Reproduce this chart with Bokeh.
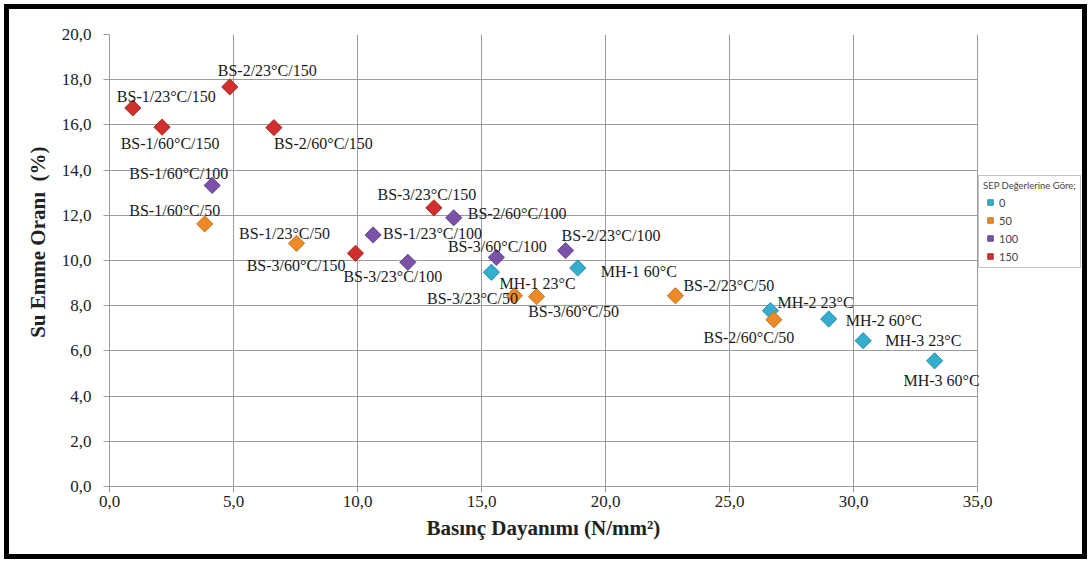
from bokeh.plotting import figure
from bokeh.layouts import column
from bokeh.models import (Range1d, FixedTicker, Legend, LegendItem, ColumnDataSource,
                          Title, BoxAnnotation)
from bokeh.core.properties import value
from bokeh.embed import file_html
from bokeh.resources import INLINE
import math

# ---------------- data ----------------
names = [
    "BS-1/23°C/150", "BS-1/60°C/150", "BS-2/23°C/150", "BS-2/60°C/150",
    "BS-3/23°C/150", "BS-3/60°C/150",
    "BS-1/60°C/100", "BS-1/23°C/100", "BS-2/60°C/100", "BS-3/23°C/100",
    "BS-3/60°C/100", "BS-2/23°C/100",
    "BS-1/60°C/50", "BS-1/23°C/50", "BS-3/23°C/50", "BS-3/60°C/50",
    "BS-2/23°C/50", "BS-2/60°C/50",
    "MH-1 23°C", "MH-1 60°C", "MH-2 23°C", "MH-2 60°C", "MH-3 23°C", "MH-3 60°C",
]
basinc = [
    0.94, 2.12, 4.85, 6.63, 13.08, 9.92,
    4.14, 10.63, 13.88, 12.03, 15.60, 18.39,
    3.84, 7.54, 16.33, 17.22, 22.82, 26.79,
    15.40, 18.88, 26.65, 29.00, 30.39, 33.27,
]
su_emme = [
    16.75, 15.90, 17.68, 15.88, 12.33, 10.32,
    13.32, 11.13, 11.89, 9.92, 10.14, 10.44,
    11.62, 10.76, 8.44, 8.40, 8.44, 7.38,
    9.48, 9.67, 7.78, 7.41, 6.45, 5.56,
]
sep = [
    "150", "150", "150", "150", "150", "150",
    "100", "100", "100", "100", "100", "100",
    "50", "50", "50", "50", "50", "50",
    "0", "0", "0", "0", "0", "0",
]
groups = ["0", "50", "100", "150"]
x_ticks = [0, 5, 10, 15, 20, 25, 30, 35]
y_ticks = [0, 2, 4, 6, 8, 10, 12, 14, 16, 18, 20]

# ---------------- style ----------------
colors = {"0": "#33AECF", "50": "#EE8A25", "100": "#7B52A8", "150": "#D0302C"}
edges = {"0": "#1F7F9A", "50": "#B8661A", "100": "#563882", "150": "#9A1F1C"}
# label placement (pixels from marker) and alignment, same order as names
label_dx = [-16, 8, -12, 0, -7, -10,
            16, 10, 14, -15, 1, -4,
            -30, -12, -42, 37, 8, -25,
            8, 23, 7, 17, 22, 7]
label_dy = [-11, 16, -16, 16, -13, 12,
            -12, -1, -4, 14, -11, -15,
            -13, -10, 3, 15, -10, 18,
            11, 4, -8, 1, 0, 20]
label_align = ["left", "center", "left", "left", "center", "right",
               "right", "left", "left", "center", "center", "left",
               "center", "center", "center", "center", "left", "center",
               "left", "left", "left", "left", "left", "center"]

FW, FH = 1073, 545          # figure inside a 4px margin + 5px black frame
LEFT, TOP, BOTTOM = 100, 25, 68
X_MAX = x_ticks[-1]
PX_PER_X = 868 / X_MAX      # axis length 0..35 in pixels
x_end = (FW - LEFT) / PX_PER_X   # frame extends to the right edge (legend area)

p = figure(width=FW, height=FH, output_backend="svg", toolbar_location=None,
           x_range=Range1d(0, x_end), y_range=Range1d(0, 20),
           min_border_left=LEFT, min_border_right=0,
           min_border_top=TOP, min_border_bottom=BOTTOM,
           background_fill_color="white", border_fill_color="white")
p.outline_line_color = None

grid_col = "#9c9c9c"
for g in (p.xgrid, p.ygrid):
    g.grid_line_color = grid_col
    g.grid_line_width = 1
p.xgrid.ticker = FixedTicker(ticks=x_ticks)
p.ygrid.ticker = FixedTicker(ticks=y_ticks)

# white out the area right of the plot (legend zone)
p.add_layout(BoxAnnotation(left=X_MAX + 0.02, fill_color="white", fill_alpha=1,
                           line_color=None, level="underlay"))

p.xaxis.ticker = FixedTicker(ticks=x_ticks)
p.yaxis.ticker = FixedTicker(ticks=y_ticks)
p.xaxis.bounds = (0, X_MAX)
p.xaxis.major_label_overrides = {t: f"{t:.1f}".replace(".", ",") for t in x_ticks}
p.yaxis.major_label_overrides = {t: f"{t:.1f}".replace(".", ",") for t in y_ticks}
for ax in (p.xaxis, p.yaxis):
    ax.axis_line_color = grid_col
    ax.major_tick_line_color = grid_col
    ax.major_tick_out = 6
    ax.major_tick_in = 0
    ax.minor_tick_line_color = None
    ax.major_label_text_font = "Liberation Serif"
    ax.major_label_text_font_size = "17px"
    ax.major_label_text_color = "#222222"
p.yaxis.major_label_standoff = 12
p.xaxis.major_label_standoff = 3

title_style = dict(text_font="Liberation Serif", text_font_style="bold",
                   text_font_size="21px", text_color="#222222")
xtitle = Title(text="Basınç Dayanımı (N/mm²)", align="left", offset=317,
               standoff=9, **title_style)
p.add_layout(xtitle, "below")

ytitle = Title(text="Su Emme Oranı\u00a0 (%)", align="right", offset=112,
               standoff=18, **title_style)
p.add_layout(ytitle, "left")

src = ColumnDataSource(dict(x=basinc, y=su_emme, name=names, sep=sep,
                            dx=label_dx, dy=label_dy, align=label_align))

renderers = {}
for g in groups:
    idx = [i for i, s in enumerate(sep) if s == g]
    r = p.scatter([basinc[i] for i in idx], [su_emme[i] for i in idx],
                  marker="square", angle=math.pi / 4, size=11.5,
                  fill_color=colors[g], line_color=edges[g], line_width=0.8)
    renderers[g] = r

p.text(x="x", y="y", text="name", source=src, x_offset="dx", y_offset="dy",
       text_align="align", text_baseline="middle",
       text_font=value("Liberation Serif"), text_font_size="16px",
       text_color="#1a1a1a")

legend = Legend(items=[LegendItem(label=g, renderers=[renderers[g]]) for g in groups],
                location=(869, 218), title="SEP Değerlerine Göre;",
                title_text_font="Lato", title_text_font_size="9.5px",
                title_text_font_style="normal", title_standoff=4,
                label_text_font="Lato", label_text_font_size="11px",
                label_standoff=2, glyph_width=14, glyph_height=14,
                label_height=14, spacing=4, padding=4, margin=0,
                border_line_color="#8a8a8a", border_line_width=1,
                background_fill_color="white", background_fill_alpha=1)
p.add_layout(legend, "center")

layout = column(p, styles={"border": "5px solid black", "margin": "4px"})
open("out.html", "w").write(file_html(layout, INLINE))
